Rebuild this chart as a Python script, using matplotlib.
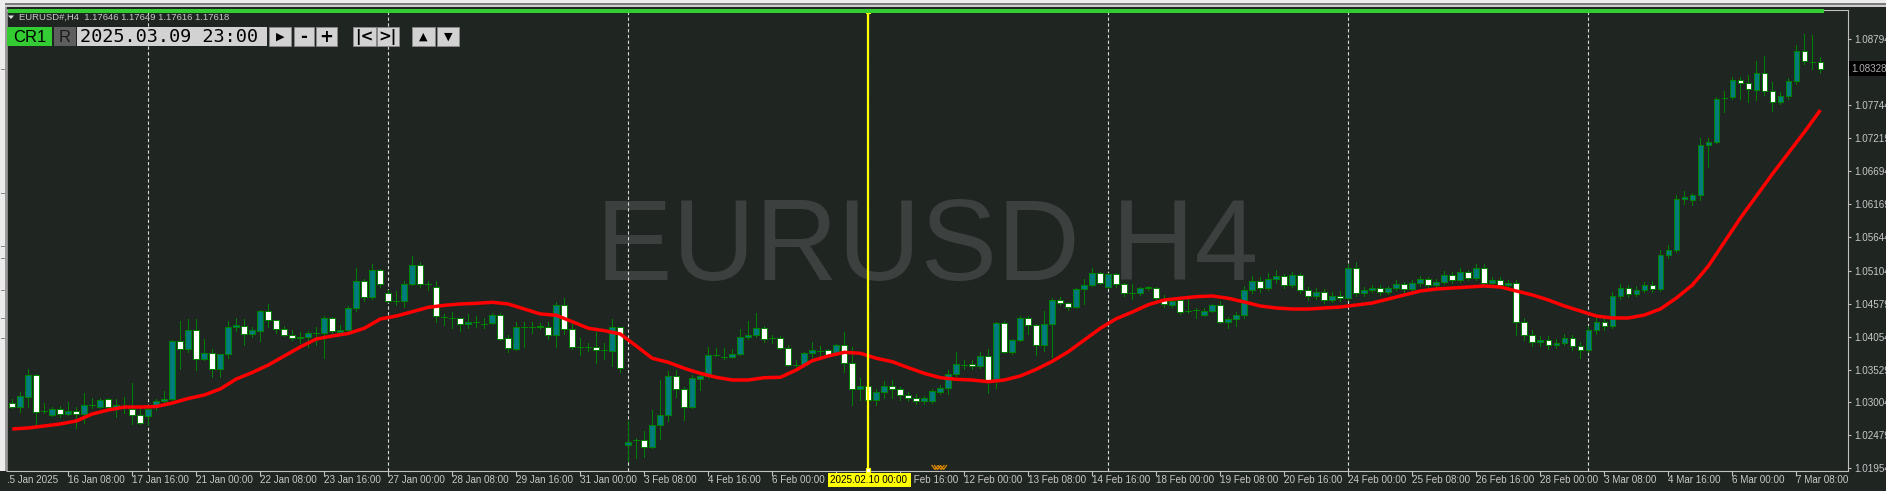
import numpy as np
import pandas as pd
import matplotlib
matplotlib.use("Agg")
import matplotlib.pyplot as plt
import matplotlib.transforms as mtransforms
from matplotlib.patches import Rectangle, Polygon
from matplotlib.lines import Line2D

# ---------------- data ----------------
SYMBOL = "EURUSD#,H4"
WATERMARK = "EURUSD H4"
HEADER_QUOTES = "1.17646 1.17649 1.17616 1.17618"
TOOLBAR_DATE = "2025.03.09 23:00"
FIRST_BAR = "2025-01-15 04:00"
MARKED_BAR_TIME = "2025-02-10 00:00"
MARKED_BAR_LABEL = "2025.02.10 00:00"
CURRENT_PRICE = 1.08328

OPEN = [1.02995, 1.02931, 1.03091, 1.03442, 1.02868, 1.02804, 1.02900, 1.02820, 1.02868, 1.02820,
        1.02963, 1.02931, 1.03060, 1.02931, 1.02931, 1.02900, 1.02804, 1.02788, 1.02947, 1.03027,
        1.03060, 1.03984, 1.03857, 1.04160, 1.03697, 1.03793, 1.03538, 1.03777, 1.04208, 1.04223,
        1.04096, 1.04144, 1.04462, 1.04319, 1.04176, 1.04080, 1.04032, 1.04048, 1.04112, 1.04112,
        1.04351, 1.04128, 1.04160, 1.04510, 1.04941, 1.04686, 1.05116, 1.04749, 1.04622, 1.04622,
        1.04893, 1.05196, 1.04893, 1.04845, 1.04367, 1.04351, 1.04351, 1.04255, 1.04287, 1.04255,
        1.04271, 1.04398, 1.04032, 1.03857, 1.04208, 1.04208, 1.04208, 1.04208, 1.04080, 1.04558,
        1.04176, 1.03889, 1.03889, 1.03889, 1.03841, 1.03825, 1.04208, 1.02326, 1.02406, 1.02406,
        1.02294, 1.02645, 1.02804, 1.03426, 1.03219, 1.02931, 1.03378, 1.03426, 1.03761, 1.03729,
        1.03729, 1.03777, 1.04048, 1.04080, 1.04192, 1.04032, 1.04032, 1.03873, 1.03601, 1.03601,
        1.03793, 1.03825, 1.03841, 1.03777, 1.03920, 1.03633, 1.03219, 1.03267, 1.03043, 1.03171,
        1.03267, 1.03219, 1.03123, 1.03075, 1.03027, 1.03027, 1.03171, 1.03235, 1.03458, 1.03601,
        1.03617, 1.03585, 1.03745, 1.03362, 1.04271, 1.03809, 1.04000, 1.04351, 1.04239, 1.03920,
        1.04255, 1.04638, 1.04590, 1.04526, 1.04813, 1.04877, 1.05068, 1.04845, 1.05052, 1.04893,
        1.04749, 1.04749, 1.04829, 1.04829, 1.04654, 1.04558, 1.04638, 1.04462, 1.04478, 1.04398,
        1.04462, 1.04558, 1.04287, 1.04335, 1.04398, 1.04797, 1.04941, 1.04829, 1.04973, 1.05020,
        1.04877, 1.05036, 1.04797, 1.04702, 1.04765, 1.04638, 1.04702, 1.04670, 1.05148, 1.04749,
        1.04797, 1.04829, 1.04765, 1.04829, 1.04893, 1.04813, 1.04909, 1.04973, 1.04877, 1.04925,
        1.05036, 1.04957, 1.05084, 1.04989, 1.05148, 1.04909, 1.04957, 1.04877, 1.04909, 1.04287,
        1.04080, 1.03968, 1.04000, 1.03920, 1.03952, 1.04032, 1.03904, 1.03841, 1.04160, 1.04287,
        1.04223, 1.04702, 1.04829, 1.04733, 1.04797, 1.04877, 1.04813, 1.05355, 1.05435, 1.06248,
        1.06232, 1.06311, 1.07109, 1.07157, 1.07859, 1.07874, 1.08146, 1.08098, 1.07986, 1.08257,
        1.07970, 1.07795, 1.07890, 1.08130, 1.08608, 1.08432, 1.08432]

HIGH = [1.03060, 1.03171, 1.03538, 1.03458, 1.02995, 1.02931, 1.02947, 1.03011, 1.02931, 1.03155,
        1.03075, 1.03075, 1.03075, 1.03060, 1.03091, 1.03314, 1.02931, 1.02931, 1.03060, 1.03187,
        1.04000, 1.04303, 1.04335, 1.04335, 1.04016, 1.03857, 1.03777, 1.04303, 1.04351, 1.04335,
        1.04208, 1.04478, 1.04574, 1.04319, 1.04223, 1.04160, 1.04128, 1.04144, 1.04208, 1.04382,
        1.04367, 1.04239, 1.04542, 1.05148, 1.04973, 1.05212, 1.05132, 1.04797, 1.04781, 1.04941,
        1.05339, 1.05244, 1.04941, 1.04941, 1.04415, 1.04446, 1.04351, 1.04415, 1.04382, 1.04351,
        1.04430, 1.04430, 1.04080, 1.04287, 1.04287, 1.04287, 1.04271, 1.04287, 1.04606, 1.04670,
        1.04255, 1.04032, 1.03952, 1.04128, 1.03952, 1.04335, 1.04208, 1.02709, 1.02438, 1.02549,
        1.02884, 1.03362, 1.03506, 1.03522, 1.03251, 1.03442, 1.03474, 1.03889, 1.03873, 1.03873,
        1.03857, 1.04176, 1.04303, 1.04430, 1.04223, 1.04080, 1.04064, 1.03920, 1.03681, 1.03809,
        1.03968, 1.03904, 1.03857, 1.03936, 1.04128, 1.03889, 1.03394, 1.03283, 1.03219, 1.03346,
        1.03362, 1.03251, 1.03171, 1.03139, 1.03107, 1.03219, 1.03283, 1.03522, 1.03809, 1.03681,
        1.03681, 1.03809, 1.03857, 1.04287, 1.04303, 1.04016, 1.04382, 1.04382, 1.04255, 1.04462,
        1.04670, 1.04686, 1.04606, 1.04829, 1.04973, 1.05148, 1.05084, 1.05068, 1.05068, 1.04909,
        1.04893, 1.04845, 1.04861, 1.04845, 1.04718, 1.04654, 1.04654, 1.04702, 1.04510, 1.04510,
        1.04574, 1.04622, 1.04367, 1.04446, 1.04861, 1.05020, 1.05004, 1.05068, 1.05116, 1.05052,
        1.05084, 1.05068, 1.04845, 1.04829, 1.04813, 1.04765, 1.04781, 1.05212, 1.05244, 1.04845,
        1.04877, 1.04877, 1.04861, 1.04957, 1.04925, 1.04957, 1.05020, 1.05004, 1.04973, 1.05100,
        1.05084, 1.05148, 1.05116, 1.05212, 1.05212, 1.05004, 1.05004, 1.04957, 1.04957, 1.04351,
        1.04160, 1.04064, 1.04064, 1.04016, 1.04096, 1.04080, 1.03968, 1.04223, 1.04351, 1.04351,
        1.04765, 1.04893, 1.04877, 1.04861, 1.04925, 1.04941, 1.05435, 1.05515, 1.06311, 1.06375,
        1.06343, 1.07221, 1.07221, 1.07874, 1.07970, 1.08193, 1.08193, 1.08225, 1.08448, 1.08528,
        1.08114, 1.07954, 1.08177, 1.08704, 1.08879, 1.08863, 1.08512]

LOW = [1.02915, 1.02852, 1.02931, 1.02613, 1.02836, 1.02788, 1.02773, 1.02804, 1.02597, 1.02677,
       1.02915, 1.02915, 1.02884, 1.02773, 1.02836, 1.02661, 1.02661, 1.02645, 1.02884, 1.02995,
       1.03043, 1.03538, 1.03809, 1.03522, 1.03681, 1.03410, 1.03410, 1.03713, 1.04144, 1.03920,
       1.04048, 1.03984, 1.04208, 1.04112, 1.04064, 1.04000, 1.03952, 1.03889, 1.03920, 1.03713,
       1.04112, 1.04112, 1.04144, 1.04462, 1.04622, 1.04654, 1.04845, 1.04606, 1.04558, 1.04526,
       1.04877, 1.04845, 1.04797, 1.04287, 1.04239, 1.04192, 1.04144, 1.04192, 1.04208, 1.04192,
       1.04255, 1.04000, 1.03809, 1.03841, 1.03889, 1.04112, 1.04176, 1.04016, 1.03889, 1.04096,
       1.03857, 1.03761, 1.03825, 1.03633, 1.03697, 1.03585, 1.03490, 1.02071, 1.02119, 1.02135,
       1.02278, 1.02422, 1.02709, 1.03091, 1.02725, 1.02915, 1.03203, 1.03394, 1.03745, 1.03697,
       1.03713, 1.03761, 1.04016, 1.04048, 1.03968, 1.03952, 1.03857, 1.03585, 1.03538, 1.03585,
       1.03729, 1.03745, 1.03745, 1.03761, 1.03490, 1.02963, 1.03043, 1.02915, 1.02963, 1.03075,
       1.03075, 1.03043, 1.03027, 1.02979, 1.02979, 1.02995, 1.03139, 1.03139, 1.03426, 1.03538,
       1.03538, 1.03554, 1.03155, 1.03235, 1.03793, 1.03777, 1.03984, 1.04096, 1.03761, 1.03825,
       1.03729, 1.04558, 1.04478, 1.04510, 1.04574, 1.04861, 1.04893, 1.04829, 1.04845, 1.04702,
       1.04654, 1.04718, 1.04797, 1.04622, 1.04526, 1.04526, 1.04415, 1.04430, 1.04351, 1.04382,
       1.04446, 1.04271, 1.04192, 1.04223, 1.04351, 1.04749, 1.04765, 1.04797, 1.04909, 1.04829,
       1.04845, 1.04749, 1.04638, 1.04654, 1.04590, 1.04606, 1.04622, 1.04638, 1.04702, 1.04702,
       1.04765, 1.04718, 1.04733, 1.04797, 1.04765, 1.04781, 1.04861, 1.04829, 1.04845, 1.04893,
       1.04909, 1.04925, 1.04957, 1.04957, 1.04861, 1.04877, 1.04829, 1.04797, 1.04080, 1.04000,
       1.03904, 1.03904, 1.03857, 1.03873, 1.03920, 1.03841, 1.03713, 1.03809, 1.04096, 1.04160,
       1.04192, 1.04654, 1.04686, 1.04702, 1.04765, 1.04765, 1.04781, 1.05307, 1.05403, 1.06168,
       1.06152, 1.06232, 1.06758, 1.07141, 1.07635, 1.07843, 1.07843, 1.07795, 1.07827, 1.07906,
       1.07651, 1.07763, 1.07843, 1.08082, 1.08401, 1.08321, 1.08257]

CLOSE = [1.02931, 1.03107, 1.03442, 1.02852, 1.02872, 1.02900, 1.02820, 1.02868, 1.02820, 1.02963,
         1.02965, 1.03043, 1.02931, 1.02963, 1.02947, 1.02804, 1.02677, 1.02900, 1.03027, 1.03060,
         1.03984, 1.03857, 1.04160, 1.03697, 1.03793, 1.03538, 1.03777, 1.04208, 1.04239, 1.04096,
         1.04160, 1.04462, 1.04319, 1.04176, 1.04080, 1.04032, 1.04048, 1.04112, 1.04114, 1.04351,
         1.04144, 1.04160, 1.04510, 1.04941, 1.04686, 1.05116, 1.04893, 1.04622, 1.04620, 1.04893,
         1.05196, 1.04893, 1.04890, 1.04383, 1.04365, 1.04349, 1.04255, 1.04287, 1.04289, 1.04257,
         1.04398, 1.04016, 1.03873, 1.04208, 1.04206, 1.04210, 1.04223, 1.04080, 1.04558, 1.04176,
         1.03889, 1.03887, 1.03891, 1.03841, 1.03843, 1.04208, 1.03554, 1.02374, 1.02408, 1.02294,
         1.02645, 1.02804, 1.03426, 1.03219, 1.02931, 1.03394, 1.03426, 1.03761, 1.03763, 1.03731,
         1.03777, 1.04048, 1.04080, 1.04192, 1.04016, 1.04030, 1.03873, 1.03601, 1.03603, 1.03793,
         1.03841, 1.03827, 1.03761, 1.03920, 1.03633, 1.03219, 1.03267, 1.03043, 1.03171, 1.03267,
         1.03219, 1.03123, 1.03075, 1.03027, 1.03075, 1.03187, 1.03235, 1.03458, 1.03617, 1.03599,
         1.03585, 1.03745, 1.03330, 1.04271, 1.03809, 1.04000, 1.04351, 1.04239, 1.03920, 1.04255,
         1.04638, 1.04590, 1.04526, 1.04813, 1.04877, 1.05068, 1.04909, 1.05052, 1.04893, 1.04749,
         1.04747, 1.04829, 1.04845, 1.04670, 1.04574, 1.04622, 1.04446, 1.04460, 1.04476, 1.04462,
         1.04558, 1.04287, 1.04335, 1.04398, 1.04797, 1.04941, 1.04829, 1.04973, 1.05020, 1.04877,
         1.05036, 1.04797, 1.04702, 1.04765, 1.04638, 1.04702, 1.04670, 1.05148, 1.04749, 1.04797,
         1.04829, 1.04765, 1.04829, 1.04893, 1.04813, 1.04909, 1.04973, 1.04877, 1.04925, 1.05036,
         1.04957, 1.05084, 1.04989, 1.05148, 1.04909, 1.04957, 1.04877, 1.04909, 1.04287, 1.04080,
         1.03968, 1.04000, 1.03920, 1.03952, 1.04032, 1.03904, 1.03841, 1.04160, 1.04287, 1.04223,
         1.04702, 1.04829, 1.04733, 1.04797, 1.04877, 1.04813, 1.05355, 1.05435, 1.06248, 1.06280,
         1.06311, 1.07109, 1.07157, 1.07843, 1.07857, 1.08146, 1.08098, 1.08002, 1.08257, 1.07970,
         1.07795, 1.07890, 1.08130, 1.08608, 1.08448, 1.08430, 1.08328]

# moving average, read at every second bar (bars 0, 2, 4, ... 226)
MA_EVERY_2 = [1.02581, 1.02597, 1.02629, 1.02661, 1.02709, 1.02820, 1.02884, 1.02931, 1.02931, 1.02939,
              1.02995, 1.03067, 1.03123, 1.03219, 1.03378, 1.03482, 1.03601, 1.03745, 1.03889, 1.04016,
              1.04064, 1.04104, 1.04187, 1.04335, 1.04382, 1.04451, 1.04521, 1.04553, 1.04574, 1.04585,
              1.04601, 1.04574, 1.04494, 1.04415, 1.04394, 1.04292, 1.04187, 1.04149, 1.04096, 1.03904,
              1.03708, 1.03644, 1.03548, 1.03468, 1.03405, 1.03362, 1.03362, 1.03399, 1.03405, 1.03522,
              1.03670, 1.03745, 1.03804, 1.03788, 1.03708, 1.03654, 1.03558, 1.03468, 1.03399, 1.03373,
              1.03362, 1.03335, 1.03362, 1.03426, 1.03533, 1.03660, 1.03814, 1.04000, 1.04187, 1.04340,
              1.04446, 1.04563, 1.04638, 1.04665, 1.04691, 1.04702, 1.04665, 1.04606, 1.04542, 1.04510,
              1.04494, 1.04494, 1.04510, 1.04526, 1.04558, 1.04590, 1.04654, 1.04718, 1.04781, 1.04813,
              1.04829, 1.04845, 1.04861, 1.04845, 1.04781, 1.04718, 1.04638, 1.04542, 1.04462, 1.04382,
              1.04351, 1.04351, 1.04398, 1.04494, 1.04670, 1.04877, 1.05180, 1.05563, 1.05945, 1.06296,
              1.06647, 1.06982, 1.07316, 1.07667]

PRICE_TICKS = [1.01954, 1.02479, 1.03004, 1.03529, 1.04054, 1.04579, 1.05104,
               1.05644, 1.06169, 1.06694, 1.07219, 1.07744, 1.08269, 1.08794]
PRICE_TICK_LABELS = ["1.01954", "1.02479", "1.03004", "1.03529", "1.04054", "1.04579", "1.05104",
                     "1.05644", "1.06169", "1.06694", "1.07219", "1.07744", "1.08269", "1.08794"]

TIME_TICK_LABELS = ["15 Jan 2025", "16 Jan 08:00", "17 Jan 16:00", "21 Jan 00:00", "22 Jan 08:00",
                    "23 Jan 16:00", "27 Jan 00:00", "28 Jan 08:00", "29 Jan 16:00", "31 Jan 00:00",
                    "3 Feb 08:00", "4 Feb 16:00", "6 Feb 00:00", "7 Feb 08:00", "10 Feb 16:00",
                    "12 Feb 00:00", "13 Feb 08:00", "14 Feb 16:00", "18 Feb 00:00", "19 Feb 08:00",
                    "20 Feb 16:00", "24 Feb 00:00", "25 Feb 08:00", "26 Feb 16:00", "28 Feb 00:00",
                    "3 Mar 08:00", "4 Mar 16:00", "6 Mar 00:00", "7 Mar 08:00"]
TIME_TICK_EVERY = 8          # bars between time labels
TIME_TICK_FIRST = -1         # first label sits one bar before the first visible bar

# ---------------- styling ----------------
W, H, DPI = 1886, 491, 100
BG = "#1f2622"
WICK = "#008000"
TEAL = "#007c7c"
AXCOL = "#c0c0c0"
TXT = "#c8c8c8"
plt.rcParams["font.family"] = ["Liberation Sans", "DejaVu Sans"]

fig = plt.figure(figsize=(W / DPI, H / DPI), dpi=DPI)
fig.patch.set_facecolor(BG)
PX = mtransforms.Affine2D().scale(1.0 / W, -1.0 / H).translate(0, 1) + fig.transFigure

AX_L, AX_R, AX_T, AX_B = 7.0, 1848.0, 9.5, 471.0
ax = fig.add_axes([AX_L / W, 1 - AX_B / H, (AX_R - AX_L) / W, (AX_B - AX_T) / H])
ax.set_facecolor(BG)

n = len(OPEN)
idx = np.arange(n)
o, h, l, c = map(np.asarray, (OPEN, HIGH, LOW, CLOSE))

# bar times -> weekly separators / marked line
times = []
t = pd.Timestamp(FIRST_BAR)
while len(times) < n:
    if t.weekday() < 5:
        times.append(t)
    t += pd.Timedelta(hours=4)
times = pd.DatetimeIndex(times)
week_starts = [i for i, tt in enumerate(times) if tt.weekday() == 0 and tt.hour == 0]
marked = int(np.where(times == pd.Timestamp(MARKED_BAR_TIME))[0][0])

XMIN, XMAX = -0.66, 229.45
ax.set_xlim(XMIN, XMAX)
ax.set_ylim(1.01911, 1.09270)

for ws in week_starts:
    ax.axvline(ws, color="#d8d8d8", lw=0.8, dashes=(3, 2.2), zorder=1)

ax.vlines(idx, l, h, colors=WICK, lw=0.72, zorder=2, antialiased=False)
bw = 0.72
for i in idx:
    bot = min(o[i], c[i])
    ht = abs(c[i] - o[i])
    fc = TEAL if c[i] > o[i] else "white"
    ax.add_patch(Rectangle((i - bw / 2, bot), bw, ht, facecolor=fc, edgecolor=WICK,
                           lw=0.62, zorder=3, antialiased=False))

ma_x = np.arange(0, n, 2)
ax.plot(ma_x, MA_EVERY_2, color="#ff0000", lw=2.5, zorder=4, solid_capstyle="butt")

# marked (yellow) vertical line
ax.axvline(marked, color="#ffff00", lw=1.6, zorder=6)
ax.plot([marked], [1.01925], marker="s", ms=3.5, mfc="white", mec="#ffff00", mew=0.8,
        zorder=7, clip_on=False)
ax.plot([marked], [1.09250], marker="s", ms=3.5, mfc="white", mec="#ffff00", mew=0.8,
        zorder=7, clip_on=False)

# watermark
ax.text(596, 280, WATERMARK, transform=PX, fontsize=82.5, color="#3c403e",
        ha="left", va="baseline", zorder=0.5, family="Liberation Sans")

# spines
for side in ("top", "right", "bottom"):
    ax.spines[side].set_color(AXCOL)
    ax.spines[side].set_linewidth(0.8)
ax.spines["left"].set_color("#9a9a9a")
ax.spines["left"].set_linewidth(1.2)

# price axis
ax.set_yticks(PRICE_TICKS)
ax.set_yticklabels(PRICE_TICK_LABELS)
ax.tick_params(axis="y", left=False, right=True, labelleft=False, labelright=True,
               length=2, width=0.8, color=AXCOL, pad=2.4, labelsize=7.1, labelcolor=TXT)

# time axis
tick_bars = [TIME_TICK_FIRST + TIME_TICK_EVERY * k for k in range(len(TIME_TICK_LABELS))]
ax.set_xticks([b for b in tick_bars if b >= 0])
ax.set_xticklabels([])
ax.tick_params(axis="x", length=3.5, width=0.8, color=AXCOL, direction="out")

# pixel position of a bar (for clipping labels the way the terminal does)
def bar_px(b):
    return AX_L + (b - XMIN) / (XMAX - XMIN) * (AX_R - AX_L)

MARK_BOX = (828, 911)
bx = mtransforms.blended_transform_factory(ax.transData, PX)
for b, lab in zip(tick_bars, TIME_TICK_LABELS):
    x0 = bar_px(b)
    left_clip = 7.5
    if MARK_BOX[0] <= x0 < MARK_BOX[1]:
        left_clip = MARK_BOX[1]
        if x0 + 50 < MARK_BOX[1]:
            continue      # completely hidden behind the marked-bar label
    tx = ax.text(b, 480.5, lab, transform=bx, ha="left", va="center",
                 fontsize=7.1, color=TXT, clip_on=True)
    tx.set_clip_box(mtransforms.Bbox.from_extents(left_clip, 0, W, H))

# ---------------- terminal chrome ----------------
def prect(x0, y0, x1, y1, fc, ec="none", lw=0.0, z=5):
    fig.add_artist(Rectangle((x0, y0), x1 - x0, y1 - y0, transform=PX, facecolor=fc,
                             edgecolor=ec, linewidth=lw, zorder=z))

def ptext(x, y, s, **kw):
    kw.setdefault("zorder", 6)
    fig.text(x, y, s, transform=PX, **kw)

# top strip and left strip
prect(0, 0, W, 3.3, "#ececec")
prect(0, 3.3, W, 4.6, "#7c7c7c")
prect(0, 4.6, W, 6.8, "#cfcfcf")
prect(0, 0, 5.0, 471, "#ececec")
prect(5.0, 6.8, 6.6, 471, "#9a9a9a")
for yy in (69, 193, 246, 258, 290, 318, 338):
    prect(0.5, yy, 4.5, yy + 1.2, "#8a8a8a")

# green bar at the top of the chart
prect(7.5, 9.4, 1824, 12.9, "#33cc33", z=4)

# header line
fig.add_artist(Polygon([(8, 15.5), (14, 15.5), (11, 19)], closed=True, transform=PX,
                       facecolor="#e0e0e0", edgecolor="none", zorder=6))
ptext(19, 17.4, SYMBOL + "  " + HEADER_QUOTES, fontsize=6.8, color=TXT, va="center", ha="left")

# toolbar
TB_Y0, TB_Y1 = 27.3, 46.3
ym = (TB_Y0 + TB_Y1) / 2
prect(7, TB_Y0, 52, TB_Y1, "#33cc33")
ptext(29.5, ym + 0.5, "CR1", fontsize=12, color="black", ha="center", va="center")
prect(54, TB_Y0, 76, TB_Y1, "#5e5e5e")
ptext(65, ym + 0.5, "R", fontsize=12, color="#1a1a1a", ha="center", va="center")
prect(77, TB_Y0, 267, TB_Y1, "#d2d2d2")
ptext(80.0, ym + 0.5, TOOLBAR_DATE, fontsize=13.3, color="black", ha="left", va="center",
      family="DejaVu Sans Mono")
buttons = [(269, 291, "\u25B6", 8), (294, 314, "-", 12), (316, 337, "+", 12),
           (353, 376, "|<", 11), (377, 399, ">|", 11), (412, 435, "\u25B2", 8), (437, 459, "\u25BC", 8)]
for x0, x1, s, fs in buttons:
    prect(x0, TB_Y0, x1, TB_Y1, "#d2d2d2", ec="#8a8a8a", lw=0.6)
    ptext((x0 + x1) / 2, ym + 0.3, s, fontsize=fs, color="black", ha="center", va="center",
          fontweight="bold", family=["DejaVu Sans"])

# current price label
bty = mtransforms.blended_transform_factory(PX, ax.transData)
fig.text(1851.5, CURRENT_PRICE, "1.08328", transform=bty, fontsize=7.1, color="#b0b0b0",
         ha="left", va="center", zorder=6,
         bbox=dict(boxstyle="square,pad=0.25", facecolor="black", edgecolor="none"))

# marked-bar label on time axis
prect(MARK_BOX[0], 473, MARK_BOX[1], 487.5, "#ffff00", z=6)
ptext((MARK_BOX[0] + MARK_BOX[1]) / 2 - 1, 480.5, MARKED_BAR_LABEL, fontsize=7.1, color="black",
      ha="center", va="center", zorder=7)

# small orange trade marker near the time axis
for dx in (0, 2.5):
    fig.add_artist(Line2D([932 + dx, 935 + dx, 938 + dx, 941 + dx, 944 + dx],
                          [465.5, 469.5, 465.5, 469.5, 465.5], transform=PX,
                          color="#e08a00", lw=0.9, zorder=6))

fig.savefig("out.png", dpi=DPI, facecolor=fig.get_facecolor())
